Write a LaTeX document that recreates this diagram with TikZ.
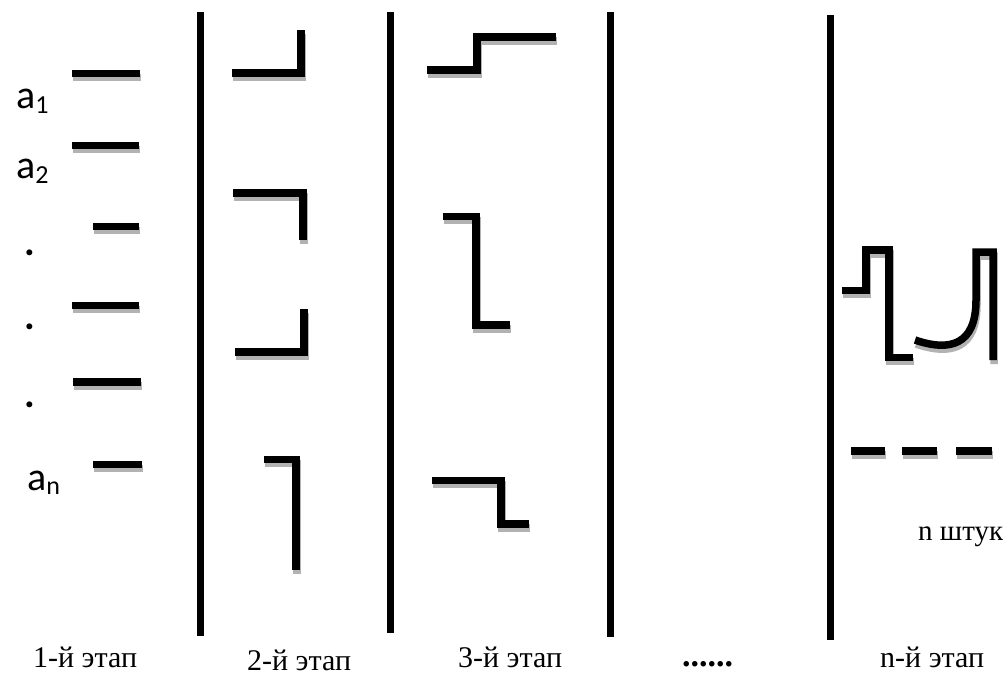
\documentclass[tikz,border=0pt]{standalone}
\usepackage{fontspec}
\setmainfont{Liberation Serif}
\newfontfamily\elemfont{Carlito}

\begin{document}
\begin{tikzpicture}[x=1pt, y=-1pt,
  bar/.style={line width=7.5pt, black},
  shade/.style={line width=7.5pt, black!30},
  wall/.style={line width=7pt, black},
  stage/.style={font=\fontsize{30}{33}\selectfont, inner sep=0pt, anchor=base west},
  elem/.style={font=\elemfont\fontsize{40}{44}\selectfont, inner sep=0pt, anchor=base west}
]
\newcommand{\pulse}[1]{\draw[shade, shift={(1,4)}] #1; \draw[bar] #1;}
\useasboundingbox (0,0) rectangle (1003,675);

% separators between stages
\draw[wall] (200,12) -- (200,636);
\draw[wall] (390,12) -- (390,633);
\draw[wall] (610,12) -- (610,637);
\draw[wall] (830,15) -- (830,640);

% stage 1
\node[elem] (a1) at (16,108) {a\raisebox{-5pt}{\fontsize{26}{28}\selectfont 1}};
\node[elem] (a2) at (16,178) {a\raisebox{-5pt}{\fontsize{26}{28}\selectfont 2}};
\node[elem, font=\elemfont\bfseries\fontsize{40}{44}\selectfont] (d1) at (24,255) {.};
\node[elem, font=\elemfont\bfseries\fontsize{40}{44}\selectfont] (d2) at (24,329) {.};
\node[elem, font=\elemfont\bfseries\fontsize{40}{44}\selectfont] (d3) at (24,407) {.};
\node[elem] (an) at (27,490) {a\raisebox{-4pt}{\fontsize{26}{28}\selectfont n}};
\pulse{(72,73.5) -- (140,73.5)}
\pulse{(72,145.5) -- (139,145.5)}
\pulse{(93,226.5) -- (139,226.5)}
\pulse{(72,305.5) -- (139,305.5)}
\pulse{(73,382) -- (141,382)}
\pulse{(93,464.5) -- (142,464.5)}

% stage 2
\pulse{(232,73) -- (301,73) -- (301,30)}
\pulse{(233,193) -- (303,193) -- (303,240)}
\pulse{(235,352) -- (304,352) -- (304,309)}
\pulse{(264,459.5) -- (296,459.5) -- (296,570)}

% stage 3
\pulse{(427,70) -- (477,70) -- (477,37) -- (556,37)}
\pulse{(443,216.5) -- (476,216.5) -- (476,325) -- (510,325)}
\pulse{(432,480.5) -- (501,480.5) -- (501,524) -- (529,524)}

% stage n
\pulse{(842,290.5) -- (866,290.5) -- (866,250) -- (889,250) -- (889,357.5) -- (913,357.5)}
\pulse{(915,340) .. controls (950,352) and (976,345) .. (976,300) -- (976,252) -- (993,252) -- (993,360)}
\pulse{(851,451) -- (885,451)}
\pulse{(902,451) -- (937,451)}
\pulse{(956,451) -- (992,451)}
\node[stage, font=\fontsize{29}{32}\selectfont] (count) at (918,540) {n штук};

% stage captions
\node[stage] (s1) at (33,667) {1-й этап};
\node[stage] (s2) at (247,670) {2-й этап};
\node[stage] (s3) at (458,667) {3-й этап};
\node[stage, font=\bfseries\fontsize{34}{36}\selectfont] (sdots) at (682,666) {......};
\node[stage] (sn) at (880,667) {n-й этап};
\end{tikzpicture}
\end{document}
